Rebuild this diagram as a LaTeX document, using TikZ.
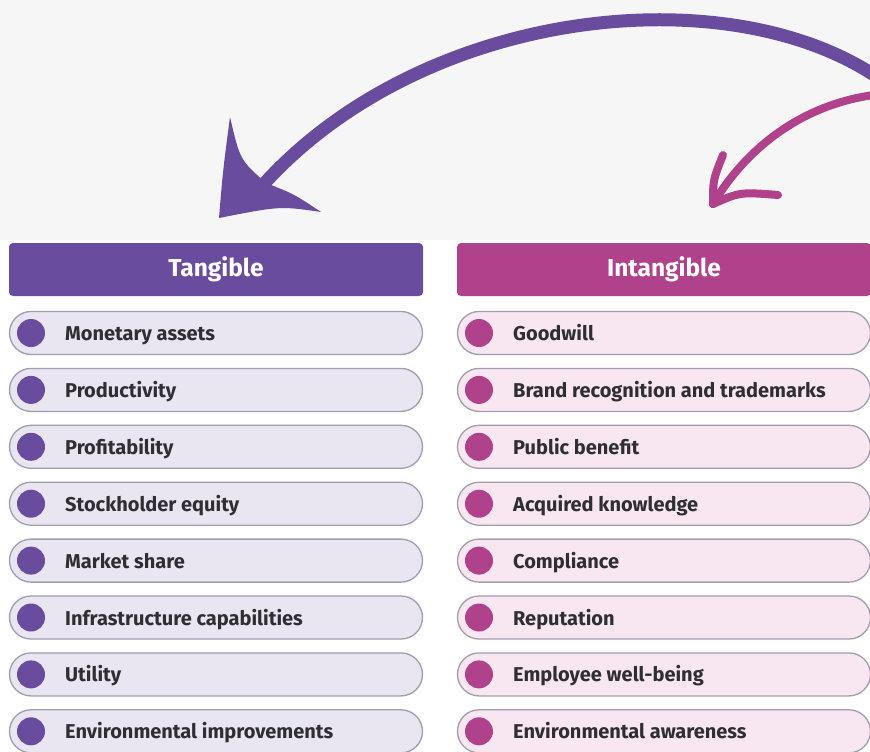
\documentclass[tikz,border=0pt]{standalone}
\usepackage{fontspec}
\setmainfont{Fira Sans}
\usetikzlibrary{shapes.misc,positioning,calc}

\definecolor{tanpurple}{HTML}{6A4C9E}
\definecolor{intpink}{HTML}{B0428C}
\definecolor{tanlight}{HTML}{E9E6F2}
\definecolor{intlight}{HTML}{F8E7F1}
\definecolor{pillborder}{HTML}{A19DB0}
\definecolor{bggray}{HTML}{F6F6F7}
\definecolor{itemtext}{HTML}{2E2E33}

\begin{document}
\begin{tikzpicture}[x=1pt,y=-1pt,
  header/.style={rectangle,rounded corners=4pt,minimum width=414pt,minimum height=53pt,
    inner sep=0pt,text=white,font=\fontsize{24.5}{28}\selectfont\bfseries},
  pill/.style={rounded rectangle,draw=pillborder,line width=1.3pt,minimum width=413pt,
    minimum height=43pt,inner sep=0pt},
  dot/.style={circle,inner sep=0pt,minimum size=28pt},
  item/.style={anchor=base west,inner sep=0pt,text=itemtext,font=\fontsize{20}{24}\selectfont\bfseries}]

  \useasboundingbox (0,0) rectangle (870,752);
  \fill[bggray] (0,0) rectangle (870,240);

  \def\rowstep{56.9} % distance between rows

  \coordinate (TL) at (216,333); % first tangible row
  \coordinate (IL) at (664,333); % first intangible row

  %%% arrows
  \coordinate (bigstart) at (874,75);
  \coordinate (bigtip) at (262,186);
  \draw[tanpurple,line width=13pt] (bigstart) .. controls (720,-25) and (420,10) .. (bigtip);
  \fill[tanpurple] (219,218) .. controls (223,170) .. (230,117)
    .. controls (240,160) .. (266,183) .. controls (294,194) .. (321,212)
    .. controls (280,206) .. (219,218) -- cycle;

  \coordinate (smallstart) at (874,95);
  \coordinate (smalltip) at (713,204);
  \draw[intpink,line width=8pt,line cap=round] (smallstart) .. controls (800,105) and (745,150) .. (smalltip);
  \draw[intpink,line width=8pt,line cap=round] (smalltip) .. controls (713,180) .. (723,155);
  \draw[intpink,line width=8pt,line cap=round] (smalltip) .. controls (740,192) .. (778,195);

  %%% headers
  \node[header,fill=tanpurple] (Tangible) at (216,269.5) {Tangible};
  \node[header,fill=intpink] (Intangible) at (664,269.5) {Intangible};

  %%% tangible
  \node[pill,fill=tanlight] (T1) at (TL) {};
  \node[dot,fill=tanpurple] (TD1) at ($(TL) + (-185,0)$) {};
  \node[item] (TT1) at ($(TL) + (-151,7.5)$) {Monetary assets};

  \node[pill,fill=tanlight] (T2) at ($(TL) + (0,\rowstep)$) {};
  \node[dot,fill=tanpurple] (TD2) at ($(TL) + (-185,\rowstep)$) {};
  \node[item] (TT2) at ($(TL) + (-151,\rowstep+7.5)$) {Productivity};

  \node[pill,fill=tanlight] (T3) at ($(TL) + (0,2*\rowstep)$) {};
  \node[dot,fill=tanpurple] (TD3) at ($(TL) + (-185,2*\rowstep)$) {};
  \node[item] (TT3) at ($(TL) + (-151,2*\rowstep+7.5)$) {Profitability};

  \node[pill,fill=tanlight] (T4) at ($(TL) + (0,3*\rowstep)$) {};
  \node[dot,fill=tanpurple] (TD4) at ($(TL) + (-185,3*\rowstep)$) {};
  \node[item] (TT4) at ($(TL) + (-151,3*\rowstep+7.5)$) {Stockholder equity};

  \node[pill,fill=tanlight] (T5) at ($(TL) + (0,4*\rowstep)$) {};
  \node[dot,fill=tanpurple] (TD5) at ($(TL) + (-185,4*\rowstep)$) {};
  \node[item] (TT5) at ($(TL) + (-151,4*\rowstep+7.5)$) {Market share};

  \node[pill,fill=tanlight] (T6) at ($(TL) + (0,5*\rowstep)$) {};
  \node[dot,fill=tanpurple] (TD6) at ($(TL) + (-185,5*\rowstep)$) {};
  \node[item] (TT6) at ($(TL) + (-151,5*\rowstep+7.5)$) {Infrastructure capabilities};

  \node[pill,fill=tanlight] (T7) at ($(TL) + (0,6*\rowstep)$) {};
  \node[dot,fill=tanpurple] (TD7) at ($(TL) + (-185,6*\rowstep)$) {};
  \node[item] (TT7) at ($(TL) + (-151,6*\rowstep+7.5)$) {Utility};

  \node[pill,fill=tanlight] (T8) at ($(TL) + (0,7*\rowstep)$) {};
  \node[dot,fill=tanpurple] (TD8) at ($(TL) + (-185,7*\rowstep)$) {};
  \node[item] (TT8) at ($(TL) + (-151,7*\rowstep+7.5)$) {Environmental improvements};

  %%% intangible
  \node[pill,fill=intlight] (I1) at (IL) {};
  \node[dot,fill=intpink] (ID1) at ($(IL) + (-185,0)$) {};
  \node[item] (IT1) at ($(IL) + (-151,7.5)$) {Goodwill};

  \node[pill,fill=intlight] (I2) at ($(IL) + (0,\rowstep)$) {};
  \node[dot,fill=intpink] (ID2) at ($(IL) + (-185,\rowstep)$) {};
  \node[item] (IT2) at ($(IL) + (-151,\rowstep+7.5)$) {Brand recognition and trademarks};

  \node[pill,fill=intlight] (I3) at ($(IL) + (0,2*\rowstep)$) {};
  \node[dot,fill=intpink] (ID3) at ($(IL) + (-185,2*\rowstep)$) {};
  \node[item] (IT3) at ($(IL) + (-151,2*\rowstep+7.5)$) {Public benefit};

  \node[pill,fill=intlight] (I4) at ($(IL) + (0,3*\rowstep)$) {};
  \node[dot,fill=intpink] (ID4) at ($(IL) + (-185,3*\rowstep)$) {};
  \node[item] (IT4) at ($(IL) + (-151,3*\rowstep+7.5)$) {Acquired knowledge};

  \node[pill,fill=intlight] (I5) at ($(IL) + (0,4*\rowstep)$) {};
  \node[dot,fill=intpink] (ID5) at ($(IL) + (-185,4*\rowstep)$) {};
  \node[item] (IT5) at ($(IL) + (-151,4*\rowstep+7.5)$) {Compliance};

  \node[pill,fill=intlight] (I6) at ($(IL) + (0,5*\rowstep)$) {};
  \node[dot,fill=intpink] (ID6) at ($(IL) + (-185,5*\rowstep)$) {};
  \node[item] (IT6) at ($(IL) + (-151,5*\rowstep+7.5)$) {Reputation};

  \node[pill,fill=intlight] (I7) at ($(IL) + (0,6*\rowstep)$) {};
  \node[dot,fill=intpink] (ID7) at ($(IL) + (-185,6*\rowstep)$) {};
  \node[item] (IT7) at ($(IL) + (-151,6*\rowstep+7.5)$) {Employee well-being};

  \node[pill,fill=intlight] (I8) at ($(IL) + (0,7*\rowstep)$) {};
  \node[dot,fill=intpink] (ID8) at ($(IL) + (-185,7*\rowstep)$) {};
  \node[item] (IT8) at ($(IL) + (-151,7*\rowstep+7.5)$) {Environmental awareness};

\end{tikzpicture}
\end{document}
